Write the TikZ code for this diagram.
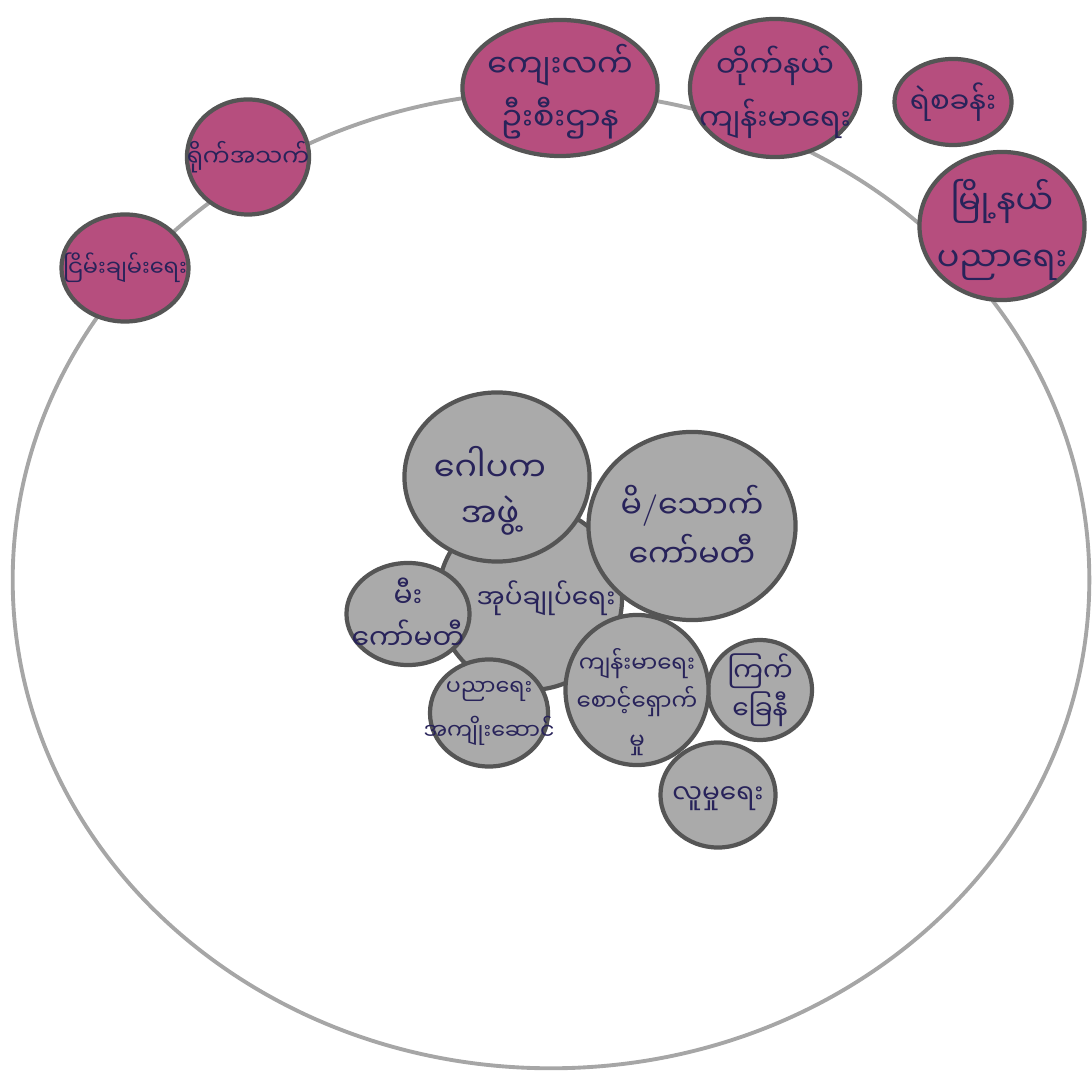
\documentclass[tikz,border=0pt]{standalone}
\usepackage{fontspec}
\newfontfamily\mmfont[Script=Myanmar]{Noto Sans Myanmar UI}
\usetikzlibrary{shapes.geometric}
\definecolor{outerpink}{RGB}{182,78,126}
\definecolor{innergray}{RGB}{170,170,170}
\definecolor{rimgray}{RGB}{85,85,85}
\definecolor{ink}{RGB}{40,35,90}
\begin{document}
\begin{tikzpicture}[
    x=0.01cm, y=-0.01cm,
    ring/.style={draw=gray!70, line width=1.1pt, ellipse, inner sep=0pt},
    blob/.style={draw=rimgray, line width=1.2pt, ellipse, inner sep=0pt},
    outer/.style={blob, fill=outerpink},
    inner/.style={blob, fill=innergray},
    word/.style 2 args={text=ink, align=center, inner sep=0pt,
        font=\mmfont\fontsize{#1}{#2}\selectfont}
]
    \useasboundingbox (0,0) rectangle (1092,1074);
    % village boundary
    \node[ring, minimum width=10.76cm, minimum height=9.76cm] (village) at (551,580) {};

    % outside links
    \node[outer, minimum width=1.27cm, minimum height=1.07cm,
        label={[word={6.4}{9}]center:ငြိမ်းချမ်းရေး}] (peace) at (125,268) {};
    \node[outer, minimum width=1.22cm, minimum height=1.15cm,
        label={[word={6.8}{9}]center:ရိုက်အသက်}] (life) at (248,157) {};
    \node[outer, minimum width=1.95cm, minimum height=1.36cm,
        label={[word={9}{15}, yshift=-0.04cm]center:ကျေးလက်\\ဦးစီးဌာန}] (rural) at (560,88) {};
    \node[outer, minimum width=1.70cm, minimum height=1.38cm,
        label={[word={8.5}{15}, yshift=-0.04cm]center:တိုက်နယ်\\ကျန်းမာရေး}] (health) at (775,88) {};
    \node[outer, minimum width=1.17cm, minimum height=0.86cm,
        label={[word={8.3}{10}]center:ရဲစခန်း}] (police) at (953,102) {};
    \node[outer, minimum width=1.65cm, minimum height=1.48cm,
        label={[word={9.5}{16}, yshift=-0.04cm]center:မြို့နယ်\\ပညာရေး}] (educ) at (1002,226) {};

    % inside groups
    \node[inner, minimum width=1.84cm, minimum height=1.84cm,
        label={[word={7.5}{10}, xshift=0.16cm]center:အုပ်ချုပ်ရေး}] (admin) at (530,598) {};
    \node[inner, minimum width=1.85cm, minimum height=1.69cm,
        label={[word={9.5}{13}, xshift=-0.07cm, yshift=-0.14cm]center:ဂေါပက\\အဖွဲ့}] (pagoda) at (497,477) {};
    \node[inner, minimum width=2.07cm, minimum height=1.88cm,
        label={[word={9}{14}]center:မိ{\rmfamily/}သောက်\\ကော်မတီ}] (water) at (692,526) {};
    \node[inner, minimum width=1.23cm, minimum height=1.02cm,
        label={[word={8}{12}]center:မီး\\ကော်မတီ}] (fire) at (408,614) {};
    \node[inner, minimum width=1.18cm, minimum height=1.07cm,
        label={[word={6.3}{12.5}]center:ပညာရေး\\အကျိုးဆောင်}] (school) at (489,713) {};
    \node[inner, minimum width=1.04cm, minimum height=1.00cm,
        label={[word={7.5}{9.5}]center:ကြက်\\ခြေနီ}] (redcross) at (760,690) {};
    \node[inner, minimum width=1.43cm, minimum height=1.50cm,
        label={[word={6.5}{11}, yshift=-0.12cm]center:ကျန်းမာရေး\\စောင့်ရှောက်\\မှု}] (care) at (637,690) {};
    \node[inner, minimum width=1.15cm, minimum height=1.05cm,
        label={[word={7.5}{10}, yshift=-0.04cm]center:လူမှုရေး}] (social) at (718,795) {};
\end{tikzpicture}
\end{document}
